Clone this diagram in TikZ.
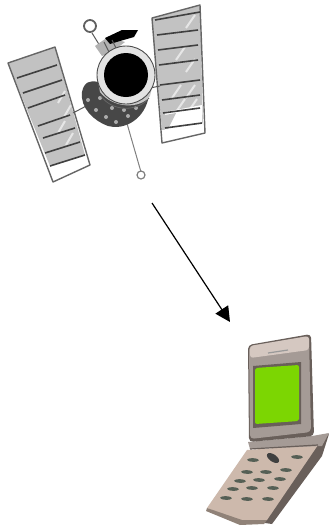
\documentclass[tikz,border=0pt]{standalone}
\usetikzlibrary{arrows.meta}
\definecolor{panelgray}{gray}{0.76}
\definecolor{bar}{gray}{0.25}
\definecolor{phonebody}{RGB}{190,170,160}
\definecolor{phoneedge}{RGB}{105,95,90}
\definecolor{phonetop}{RGB}{165,155,150}
\definecolor{phonebase}{RGB}{205,185,172}
\definecolor{screen}{RGB}{124,214,2}
\definecolor{key}{RGB}{85,95,85}
\tikzset{
  frame/.style={draw=gray!80!black,line width=1.4pt,line join=round},
  slat/.style={draw=bar,line width=1.6pt},
  glint/.style={draw=white,line width=2pt,opacity=.6},
  keycap/.style={fill=key,draw=none,minimum width=12pt,minimum height=3.6pt,inner sep=0pt,ellipse,rotate=4},
  strut/.style={draw=black!65,line width=1pt},
}
\usetikzlibrary{shapes.geometric}
\begin{document}
\begin{tikzpicture}[x=1pt,y=-1pt]
\useasboundingbox (0,0) rectangle (329,528);
% left solar panel
\fill[panelgray] (8,63)--(55,47)--(85,155)--(50,166)--cycle;
\foreach \a/\b in {62/98,68/112,62/128,70/140}{\draw[glint] (\a-4,\b+5)--(\a+3,\b-7);}
\fill[white] (53,168)--(85,156)--(90,165)--(53,182)--cycle;
\draw[frame] (8,63)--(55,47)--(90,165)--(53,182)--cycle;
\draw[slat] (17,78)--(57,65);
\draw[slat] (23,93)--(62,80);
\draw[slat] (28,108)--(65,95);
\draw[slat] (38,126)--(70,115);
\draw[slat] (43,138)--(75,128);
\draw[slat] (45,153)--(80,142);
\draw[slat] (50,166)--(85,155);
% right solar panel
\fill[panelgray] (152,18)--(200,5)--(203,125)--(162,130)--cycle;
\foreach \a/\b in {186/28,176/60,186/72,172/98,186/98,176/112,188/112}{\draw[glint] (\a,\b)--(\a+9,\b-13);}
\fill[white] (165,112)--(202,105)--(202,125)--(165,130)--cycle;
\fill[panelgray] (165,115)--(176,113)--(168,129)--(165,129)--cycle;
\fill[white] (165,130)--(203,123)--(205,133)--(162,143)--cycle;
\draw[frame] (152,18)--(200,5)--(205,133)--(162,143)--cycle;
\draw[slat] (155,20)--(200,12);
\draw[slat] (157,35)--(198,30);
\draw[slat] (158,50)--(198,45);
\draw[slat] (159,65)--(198,60);
\draw[slat] (160,85)--(200,80);
\draw[slat] (162,100)--(200,95);
\draw[slat] (163,113)--(200,108);
\draw[slat] (165,128)--(202,123);
% panel struts
\draw[strut] (73,113)--(90,104);
\draw[strut] (150,88)--(160,86);
% long boom and tip
\draw[strut,draw=gray] (126,120)--(141,172);
\draw[gray,line width=1.2pt,fill=white] (141,175) circle (4);
% rear of the body
\fill[black!72] (82,92) .. controls (84,82) and (90,80) .. (98,82)
  -- (148,100) .. controls (142,122) and (122,130) .. (108,126)
  .. controls (94,121) and (80,108) .. (82,92) -- cycle;
\foreach \a/\b in {88/100,96/110,106/117,116/122,128/116,100/98,112/108,124/110,136/108}{\fill[white,opacity=.55] (\a,\b) circle (2);}
% middle barrel
\fill[gray!45] (97,75) -- (155,75) -- (150,96) .. controls (140,110) and (112,108) .. (100,92) -- cycle;
\draw[black!60,line width=.8pt] (101,96) .. controls (112,112) and (138,112) .. (149,98);
% antenna and dish
\draw[gray!75!black,line width=1.8pt,fill=white] (90,26) circle (6);
\draw[strut] (92,33)--(100,46);
\fill[gray!60] (95,46)--(108,37)--(125,42)--(112,52)--(102,56)--cycle;
\fill[black] (105,38)--(122,30)--(138,30)--(134,37)--(120,41)--(110,44)--cycle;
\draw[strut] (104,42)--(112,58);
\draw[strut] (112,40)--(118,52);
% barrel and lens
\fill[gray!22] (126,75) circle (29);
\draw[gray!60!black,line width=.9pt] (126,75) circle (29);
\fill[black] (126,75) circle (22);
% arrow
\coordinate (arrowstart) at (152,203);
\coordinate (arrowend) at (230,322);
\draw[line width=1.2pt,-{Triangle[length=15pt,width=15pt]}] (arrowstart)--(arrowend);
% phone base
\fill[phoneedge] (316,444)--(329,434)--(322,456)--(272,524)--(258,522)--cycle;
\fill[phonebase] (247,450)--(318,445)--(267,520)--(242,522)--(207,508)--cycle;
\fill[phonebase!70!black] (207,508)--(242,520)--(267,520)--(264,524)--(240,525)--(206,511)--cycle;
\foreach \n/\x/\y in {a/253/460,b/297/457,
  c/247/472,d/266/472,e/286/470,
  f/240/481,g/259/480,h/280/479,
  i/233/489,j/252/488,k/273/488,
  l/226/498,m/247/499,n/268/499}{
  \node[keycap,rotate=-6] (\n) at (\x,\y) {};
}
\fill[black!75,rotate around={-35:(273,458)}] (273,458) ellipse (7 and 3.6);
% hinge
\fill[phonetop] (248,442)--(312,436)--(329,433)--(322,446)--(250,449)--cycle;
\draw[phoneedge,line width=1.2pt] (250,449)--(318,445);
% phone lid
\fill[phoneedge,rounded corners=4pt] (248,345)--(311,334)--(314,436)--(249,442)--cycle;
\fill[phonetop,rounded corners=4pt] (249,346)--(309,336)--(311,432)--(250,439)--cycle;
\fill[phonebody!65!white,rounded corners=3pt] (250,346)--(309,336)--(309,350)--(250,358)--cycle;
\fill[phoneedge] (253,366)--(301,362)--(301,424)--(253,428)--cycle;
\fill[screen,rounded corners=2pt] (255,368)--(299,365)--(299,421)--(255,424)--cycle;
\draw[gray!80,line width=1.2pt] (268,353)--(288,350);
\end{tikzpicture}
\end{document}
